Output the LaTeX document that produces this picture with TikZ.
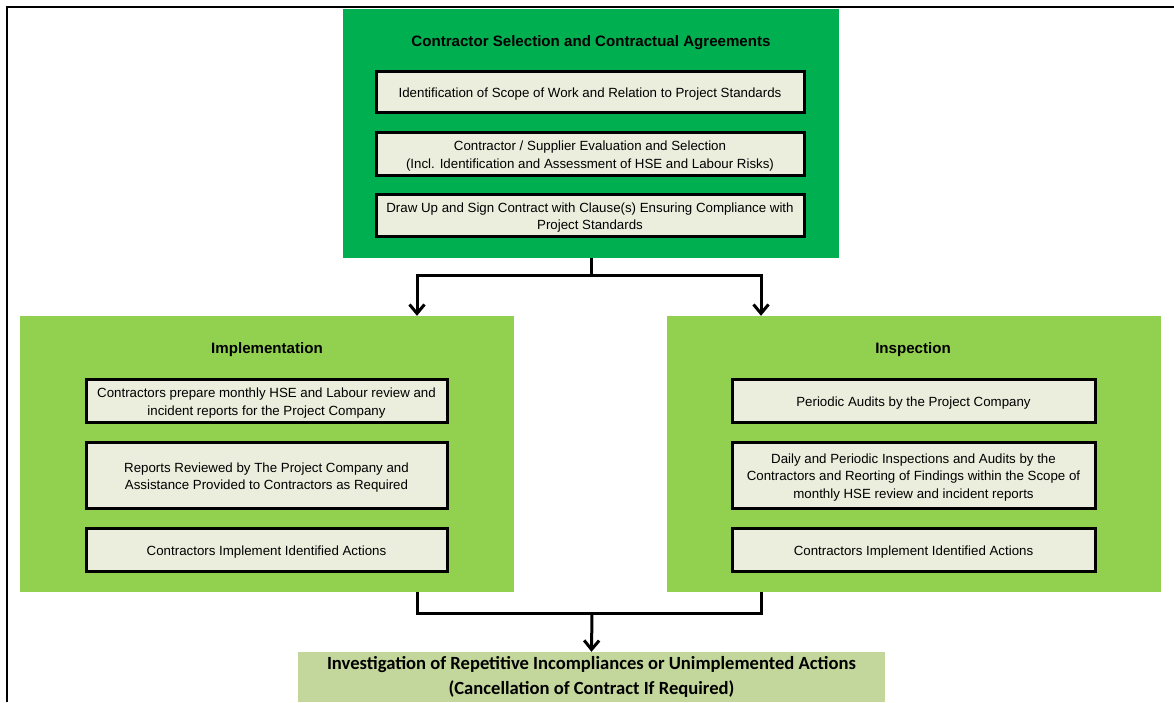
\documentclass[tikz,border=0pt]{standalone}
\usepackage{fontspec}
\setmainfont{Liberation Sans}
\newfontfamily\calibri{Carlito}
\usetikzlibrary{arrows.meta}
\definecolor{topgreen}{HTML}{00B050}
\definecolor{midgreen}{HTML}{92D050}
\definecolor{paleolive}{HTML}{C3D69B}
\definecolor{innerfill}{HTML}{EBEEDD}
\tikzset{
  panel/.style={draw=none, rectangle, inner sep=0pt},
  itembox/.style={draw=black, line width=3pt, fill=innerfill, rectangle, inner sep=0pt},
  itemtext/.style={inner sep=0pt, align=center, font=\fontsize{13.3}{17.7}\selectfont},
  heading/.style={font=\bfseries\fontsize{15.1}{18}\selectfont, inner sep=0pt},
  conn/.style={draw=black, line width=3pt},
  arrowconn/.style={conn, -{Straight Barb[length=9pt,width=15pt,line width=3pt]}},
}
\newcommand{\ibox}[5]{%
  \node[itembox, minimum width=#3, minimum height=#4] (#1) at #2 {};
  \node[itemtext] (#1-text) at ([yshift=-2.5pt]#1.center) {#5};}
\begin{document}
\begin{tikzpicture}[x=1pt,y=-1pt]
\useasboundingbox (0,0) rectangle (1174,702);
\fill[white] (0,0) rectangle (1174,702);
% partial frame
\draw[line width=2pt] (7,702) -- (7,7) -- (1174,7);

% top panel
\node[panel, fill=topgreen, minimum width=496pt, minimum height=249pt] (top) at (591,133.5) {};
\node[heading] (toptitle) at (591,42.5) {Contractor Selection and Contractual Agreements};
\ibox{t1}{(590,91.5)}{428pt}{41pt}{Identification of Scope of Work and Relation to Project Standards}
\ibox{t2}{(590,153.5)}{428pt}{43pt}{Contractor / Supplier Evaluation and Selection\\(Incl. Identification and Assessment of HSE and Labour Risks)}
\ibox{t3}{(590,215)}{428pt}{42pt}{Draw Up and Sign Contract with Clause(s) Ensuring Compliance with\\Project Standards}

% implementation panel
\node[panel, fill=midgreen, minimum width=494pt, minimum height=276pt] (impl) at (267,454) {};
\node[heading] (impltitle) at (267,349.5) {Implementation};
\ibox{i1}{(266.5,400.5)}{361pt}{43pt}{Contractors prepare monthly HSE and Labour review and\\incident reports for the Project Company}
\ibox{i2}{(266.5,475)}{361pt}{66pt}{Reports Reviewed by The Project Company and\\Assistance Provided to Contractors as Required}
\ibox{i3}{(266.5,549.5)}{361pt}{43pt}{Contractors Implement Identified Actions}

% inspection panel
\node[panel, fill=midgreen, minimum width=494pt, minimum height=276pt] (insp) at (914,454) {};
\node[heading] (insptitle) at (913,349.5) {Inspection};
\ibox{s1}{(913.5,400.5)}{363pt}{43pt}{Periodic Audits by the Project Company}
\ibox{s2}{(913.5,475)}{363pt}{66pt}{Daily and Periodic Inspections and Audits by the\\Contractors and Reorting of Findings within the Scope of\\monthly HSE review and incident reports}
\ibox{s3}{(913.5,549.5)}{363pt}{43pt}{Contractors Implement Identified Actions}

% bottom box
\node[panel, fill=paleolive, minimum width=587pt, minimum height=50pt, align=center,
  font=\calibri\bfseries\fontsize{18.6}{25}\selectfont] (bottom) at (591.5,677)
  {Investigation of Repetitive Incompliances or Unimplemented Actions\\(Cancellation of Contract If Required)};

% connectors
\draw[conn] (top.south) -- ++(0,17) coordinate (split);
\draw[arrowconn] (split) -| ([xshift=150pt]impl.north);
\draw[arrowconn] (split) -| ([xshift=-153pt]insp.north);
\coordinate (merge) at (592,613);
\draw[conn] ([xshift=150pt]impl.south) |- (merge) -| ([xshift=-153pt]insp.south);
\draw[arrowconn] (merge) -- (bottom.north);
\end{tikzpicture}
\end{document}
